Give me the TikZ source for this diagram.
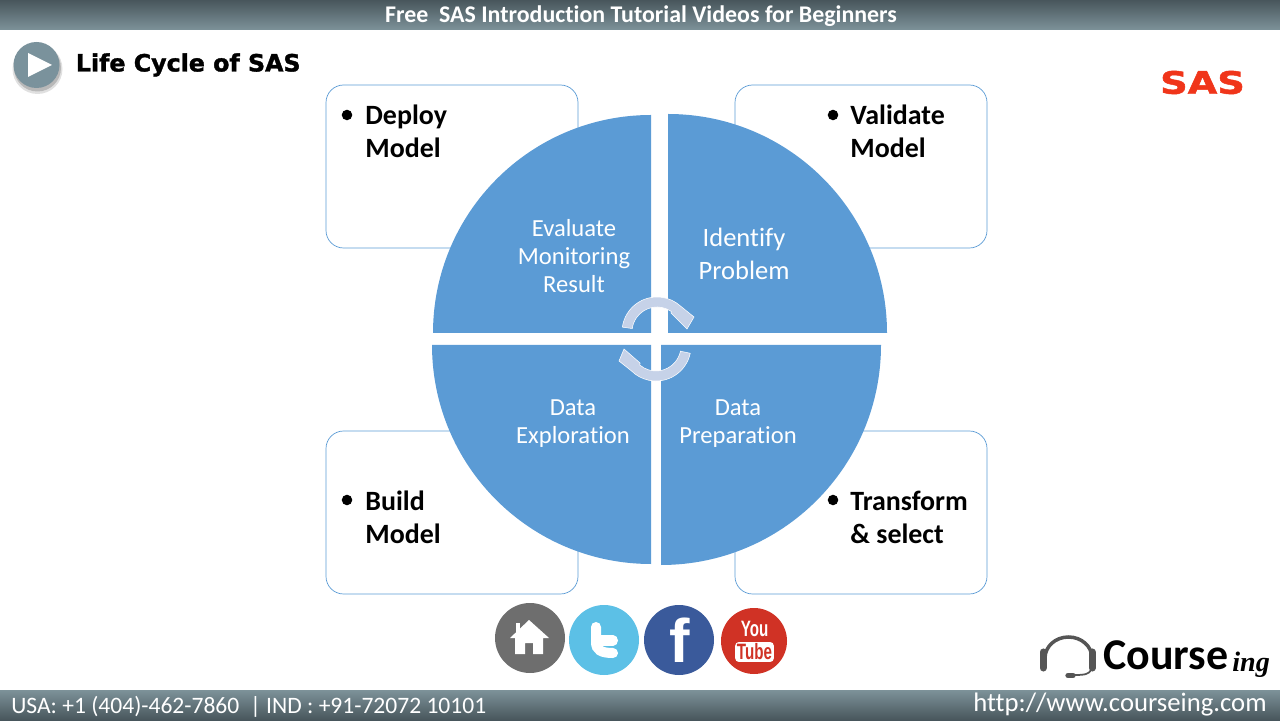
\documentclass[tikz,border=0pt]{standalone}
\usepackage{fontspec}
\setmainfont{Carlito}[Ligatures=NoCommon]
\newfontfamily\heavyfont{DejaVu Sans}[BoldFont={DejaVu Sans Bold},BoldFeatures={FakeBold=1.5}]
\newfontfamily\armfont{Liberation Sans}
\newfontfamily\inkfont{Liberation Serif}
\definecolor{barlight}{HTML}{7D9299}
\definecolor{bardark}{HTML}{48565C}
\definecolor{pieblue}{HTML}{5B9BD5}
\definecolor{swirl}{HTML}{C6D2E8}
\definecolor{playgray}{HTML}{7A929C}
\definecolor{sasred}{HTML}{F0351A}
\definecolor{homegray}{HTML}{6E6E6E}
\definecolor{twitblue}{HTML}{5CC0E6}
\definecolor{fbblue}{HTML}{3A5A9B}
\definecolor{ytred}{HTML}{D03225}
\definecolor{headgray}{HTML}{555555}
\tikzset{
  cardbox/.style={draw=pieblue,line width=0.4pt,rounded corners=10pt},
  cardtext/.style={font=\fontsize{15.9}{18.7}\selectfont\bfseries,align=left,anchor=west,inner sep=0},
  bulletdot/.style={circle,fill=black,inner sep=0,minimum size=6pt},
  pielabel/.style={font=\fontsize{14}{15.9}\selectfont,text=white,align=center,inner sep=0},
  pielabelbig/.style={font=\fontsize{15.1}{19}\selectfont,text=white,align=center,inner sep=0},
  bartext/.style={font=\fontsize{13.4}{15}\selectfont,text=white,inner sep=0},
  socialdisc/.style={circle,inner sep=0}
}
\begin{document}
\begin{tikzpicture}[x=0.02cm,y=0.02cm]

  \useasboundingbox (0,0) rectangle (1280,720);

  % bars
  \shade[top color=bardark,bottom color=barlight] (0,690) rectangle (1280,720);
  \shade[top color=barlight,bottom color=bardark] (0,0) rectangle (1280,30);
  \node (title) at (641,704) [bartext,font=\fontsize{13.6}{15}\selectfont\bfseries]{Free\ \ SAS Introduction Tutorial Videos for Beginners};
  \node (phone) at (11,13) [bartext,anchor=west]{USA: +1 (404)-462-7860\ \ | IND : +91-72072 10101};
  \node (url) at (1267,15) [bartext,anchor=east,font=\fontsize{15.2}{17}\selectfont]{http://www.courseing.com};

  % heading
  \fill[black,opacity=0.12] (37.5,651) circle (25);
  \fill[black,opacity=0.18] (37.5,652) circle (23.5);
  \node (play) at (36.5,655) [socialdisc,fill=playgray,minimum size=46*0.02cm]{};
  \fill[white] (28,667) -- (52,655) -- (28,643) -- cycle;
  \node (heading) at (75.5,655) [anchor=west,inner sep=0,font=\fontsize{13.5}{16}\heavyfont\bfseries]{Life Cycle of SAS};

  % logo
  \node (sas) at (1202.5,637.5) [inner sep=0,text=sasred,font=\fontsize{16}{18}\heavyfont\bfseries]{\scalebox{1.36}[1.1]{SAS}};

  % cards
  \foreach \x/\y in {326/472,735/472,326/126,735/126}
    \draw[cardbox] (\x,\y) rectangle ++(252,163);

  \node (deploydot) at (347,605) [bulletdot]{};
  \node (deploy) at (365,589) [cardtext]{Deploy\\Model};
  \node (validatedot) at (833,605) [bulletdot]{};
  \node (validate) at (850,589) [cardtext]{Validate\\Model};
  \node (builddot) at (347,220) [bulletdot]{};
  \node (build) at (365,203) [cardtext]{Build\\Model};
  \node (transformdot) at (833,220) [bulletdot]{};
  \node (transform) at (850,203) [cardtext]{Transform\\\& select};

  % quarters
  \fill[pieblue] (651,387) -- ++(0,218) arc (90:180:218) -- cycle;
  \fill[pieblue] (668,387) -- ++(219,0) arc (0:90:219) -- cycle;
  \fill[pieblue] (651,375) -- ++(-219,0) arc (180:270:219) -- cycle;
  \fill[pieblue] (661,375) -- ++(0,-220) arc (270:360:220) -- cycle;

  \node (evaluate) at (574,464) [pielabel]{Evaluate\\Monitoring\\Result};
  \node (identify) at (744,466) [pielabelbig]{Identify\\Problem};
  \node (explore) at (573,296.5) [pielabel]{Data\\Exploration};
  \node (prepare) at (738,296.5) [pielabel]{Data\\Preparation};

  % swirl
  \begin{scope}[shift={(657,388)}]
    \filldraw[fill=swirl,draw=white,line width=0.3pt] (172:35) arc (172:48:35) -- (37,15) -- (30,3) -- (14,19) -- (55:25) arc (55:172:25) -- cycle;
  \end{scope}
  \begin{scope}[shift={(656,374)}]
    \filldraw[fill=swirl,draw=white,line width=0.3pt] (-12:35) arc (-12:-135:35) -- (-37,-15) -- (-32,-3) -- (-16,-17) -- (-130:25) arc (-130:-12:25) -- cycle;
  \end{scope}

  % social
  \node (home) at (530,82) [socialdisc,fill=homegray,minimum size=70*0.02cm]{};
  \fill[white] (529,100) -- (510,82) -- (515,82) -- (515,66) -- (525,66) -- (525,77) -- (533,77) -- (533,66) -- (543,66) -- (543,82) -- (549,82) -- cycle;
  \fill[white] (516,97) rectangle (520,85);

  \node (twitter) at (604,80) [socialdisc,fill=twitblue,minimum size=70*0.02cm]{};
  \draw[white,line width=5.7pt,line cap=round] (596,93) -- (596,78) .. controls (596,70) and (601,67) .. (613,67);
  \draw[white,line width=5.7pt,line cap=round] (596,79.5) -- (613,79.5);

  \node (facebook) at (679,80) [socialdisc,fill=fbblue,minimum size=70*0.02cm]{};
  \node (fbmark) at (680,79.5) [inner sep=0,text=white,font=\fontsize{35}{35}\armfont\bfseries]{f};

  \node (youtube) at (754,79) [socialdisc,fill=ytred,minimum size=66*0.02cm]{};
  \node (you) at (754.5,91) [inner sep=0,text=white,font=\fontsize{11.5}{12}\armfont\bfseries]{\scalebox{0.75}[1.1]{You}};
  \node (tube) at (754.5,68) [inner sep=1pt,fill=white,rounded corners=2pt,text=ytred,font=\fontsize{11.5}{12}\armfont\bfseries]{\scalebox{0.75}[1.1]{Tube}};

  % brand
  \draw[headgray,line width=2pt] (1045,62) arc (180:0:23.5 and 21);
  \draw[headgray,line width=4pt,line cap=round] (1043,68) -- (1043,52);
  \draw[headgray,line width=4pt,line cap=round] (1092,68) -- (1092,52);
  \draw[headgray,line width=1pt] (1091,50) .. controls (1089,46) and (1085,45) .. (1075,45);
  \draw[headgray,line width=3pt,line cap=round] (1068,44.5) -- (1073,44.5);
  \node (course) at (1103,65) [anchor=west,inner sep=0,font=\fontsize{25}{27}\selectfont\bfseries]{Course};
  \node (ing) at (1232,55) [anchor=west,inner sep=0,font=\fontsize{16}{19}\inkfont\bfseries\itshape]{ing};

\end{tikzpicture}
\end{document}
